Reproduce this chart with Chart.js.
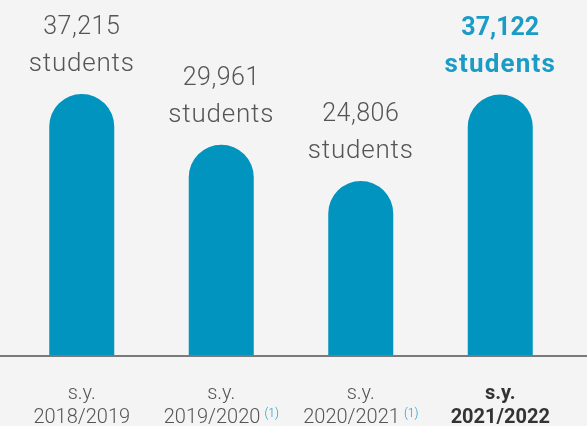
<!DOCTYPE html>
<html>
<head>
<meta charset="utf-8">
<script src="https://cdn.jsdelivr.net/npm/chart.js@4"></script>
<style>
    html, body { margin: 0; padding: 0; background: #f4f4f4; }
    #wrap { width: 587px; height: 426px; }
</style>
</head>
<body>
<div id="wrap"><canvas id="studentsChart" width="587" height="426"></canvas></div>
<script>
const schoolYears = ["2018/2019", "2019/2020", "2020/2021", "2021/2022"];
const yearNotes = ["", "(1)", "(1)", ""];
const studentCounts = [37215, 29961, 24806, 37122];
const unitLabel = "students";
const prefixLabel = "s.y.";
const highlightIndex = 3;

const barColor = "#0094be";
const accentColor = "#1a9cc6";
const textColor = "#555555";
const boldColor = "#333333";
const FONT = "Roboto, 'Open Sans', sans-serif";

const labelsPlugin = {
    id: "labels",
    afterDatasetsDraw(chart) {
        const ctx = chart.ctx;
        const area = chart.chartArea;
        const meta = chart.getDatasetMeta(0);

        // baseline across the full width
        ctx.save();
        ctx.strokeStyle = "#7a7a7a";
        ctx.lineWidth = 2;
        ctx.beginPath();
        ctx.moveTo(0, area.bottom + 1);
        ctx.lineTo(chart.width, area.bottom + 1);
        ctx.stroke();

        ctx.textAlign = "center";
        ctx.textBaseline = "alphabetic";

        meta.data.forEach((bar, i) => {
            const hl = i === highlightIndex;
            const x = bar.x;
            const top = bar.y;

            // value labels above bars
            ctx.fillStyle = hl ? accentColor : textColor;
            ctx.font = (hl ? "bold " : "300 ") + "25px " + FONT;
            ctx.letterSpacing = hl ? "0px" : "0.5px";
            ctx.fillText(studentCounts[i].toLocaleString("en-US"), x, top - 60);
            ctx.font = (hl ? "bold " : "300 ") + "26px " + FONT;
            ctx.letterSpacing = hl ? "1.2px" : "0.8px";
            ctx.fillText(unitLabel, x, top - 23);

            // category labels below baseline
            ctx.font = (hl ? "bold " : "300 ") + "20px " + FONT;
            ctx.fillStyle = hl ? boldColor : textColor;
            ctx.letterSpacing = "0px";
            ctx.fillText(prefixLabel, x, area.bottom + 44);

            const year = schoolYears[i];
            const note = yearNotes[i];
            if (note) {
                const yw = ctx.measureText(year).width;
                ctx.font = "300 12px " + FONT;
                const nw = ctx.measureText(note).width;
                const total = yw + 4 + nw;
                const start = x - total / 2;
                ctx.textAlign = "left";
                ctx.fillStyle = accentColor;
                ctx.fillText(note, start + yw + 4, area.bottom + 62);
                ctx.font = "300 20px " + FONT;
                ctx.fillStyle = textColor;
                ctx.fillText(year, start, area.bottom + 68);
                ctx.textAlign = "center";
            } else {
                ctx.fillText(year, x, area.bottom + 68);
            }
        });
        ctx.restore();
    }
};

new Chart(document.getElementById("studentsChart"), {
    type: "bar",
    data: {
        labels: schoolYears,
        datasets: [{
            data: studentCounts,
            backgroundColor: barColor,
            borderWidth: 0,
            borderRadius: { topLeft: 40, topRight: 40, bottomLeft: 0, bottomRight: 0 },
            borderSkipped: "start",
            categoryPercentage: 1,
            barPercentage: 0.466,
        }],
    },
    options: {
        responsive: false,
        animation: false,
        layout: { padding: { left: 12, right: 17, top: 0, bottom: 71 } },
        plugins: { legend: { display: false }, tooltip: { enabled: false } },
        scales: {
            x: { display: false },
            y: { display: false, min: 0, max: 50600 },
        },
    },
    plugins: [labelsPlugin],
});
</script>
</body>
</html>
